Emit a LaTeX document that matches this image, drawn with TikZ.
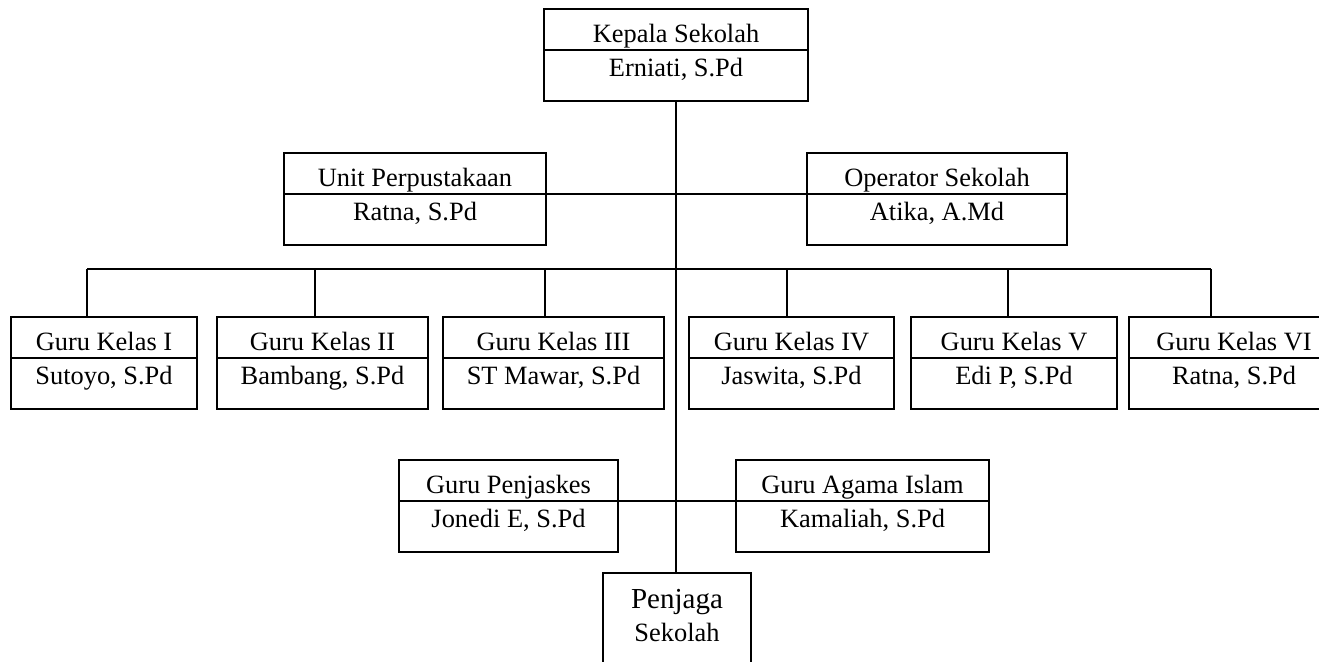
\documentclass[tikz,border=0pt]{standalone}
\usepackage{fontspec}
\setmainfont{Liberation Serif}
\usetikzlibrary{positioning,calc}
\tikzset{
  %% Two-part boxes (title / name)
  orgBox/.style={draw, line width=0.8pt, inner sep=0pt, anchor=north,
    text height=34pt, text depth=12pt, align=center,
    font=\fontsize{13.2}{17}\selectfont},
  %% Single box at the bottom
  orgTall/.style={draw, line width=0.8pt, inner sep=0pt, anchor=north,
    text height=34.5pt, text depth=25pt, align=center,
    font=\fontsize{13.2}{16.5}\selectfont},
  orgLine/.style={line width=0.7pt},
}
\begin{document}
\begin{tikzpicture}[x=0.5pt, y=-0.5pt]
\useasboundingbox (0,0) rectangle (1319,662);
\clip (0,0) rectangle (1319,662);

%% Head
\node[orgBox, minimum width=132pt] (ks) at (676,8) {Kepala Sekolah\\Erniati, S.Pd};

%% Staff
\node[orgBox, minimum width=131pt] (up) at (415,152) {Unit Perpustakaan\\Ratna, S.Pd};
\node[orgBox, minimum width=130pt] (op) at (937,152) {Operator Sekolah\\Atika, A.Md};

%% Class teachers
\node[orgBox, minimum width=93pt]    (g1) at (104,316)    {Guru Kelas I\\Sutoyo, S.Pd};
\node[orgBox, minimum width=105.5pt] (g2) at (322.5,316)  {Guru Kelas II\\Bambang, S.Pd};
\node[orgBox, minimum width=110.5pt] (g3) at (553.5,316)  {Guru Kelas III\\ST Mawar, S.Pd};
\node[orgBox, minimum width=102.5pt] (g4) at (791.5,316)  {Guru Kelas IV\\Jaswita, S.Pd};
\node[orgBox, minimum width=103pt]   (g5) at (1014,316)   {Guru Kelas V\\Edi P, S.Pd};
\node[orgBox, minimum width=105pt]   (g6) at (1234,316)   {Guru Kelas VI\\Ratna, S.Pd};

%% Subject teachers
\node[orgBox, minimum width=109.5pt] (pj) at (508.5,459)  {Guru Penjaskes\\Jonedi E, S.Pd};
\node[orgBox, minimum width=126.5pt] (ag) at (862.5,459)  {Guru Agama Islam\\Kamaliah, S.Pd};

%% Caretaker
\node[orgTall, minimum width=74pt] (pg) at (677,572)
  {{\fontsize{14.5}{16.5}\selectfont Penjaga}\\Sekolah};

%% Dividers
\foreach \b in {ks,up,op,g1,g2,g3,g4,g5,g6,pj,ag}
  \draw[orgLine] ([yshift=-21pt]\b.north west) -- ([yshift=-21pt]\b.north east);

%% Trunk
\draw[orgLine] (ks.south) -- (ks.south |- pg.north);

%% Side branches
\draw[orgLine] ([yshift=-21pt]up.north east) -- ([yshift=-21pt]op.north west);
\draw[orgLine] ([yshift=-21pt]pj.north east) -- ([yshift=-21pt]ag.north west);

%% Bus to class teachers
\foreach \b/\x in {g1/87, g2/315, g3/545, g4/787, g5/1008, g6/1211}
  \coordinate (d\b) at (\x,269);
\draw[orgLine] (dg1) -- (dg6);
\foreach \b in {g1,g2,g3,g4,g5,g6}
  \draw[orgLine] (d\b) -- (d\b |- \b.north);

\end{tikzpicture}
\end{document}
